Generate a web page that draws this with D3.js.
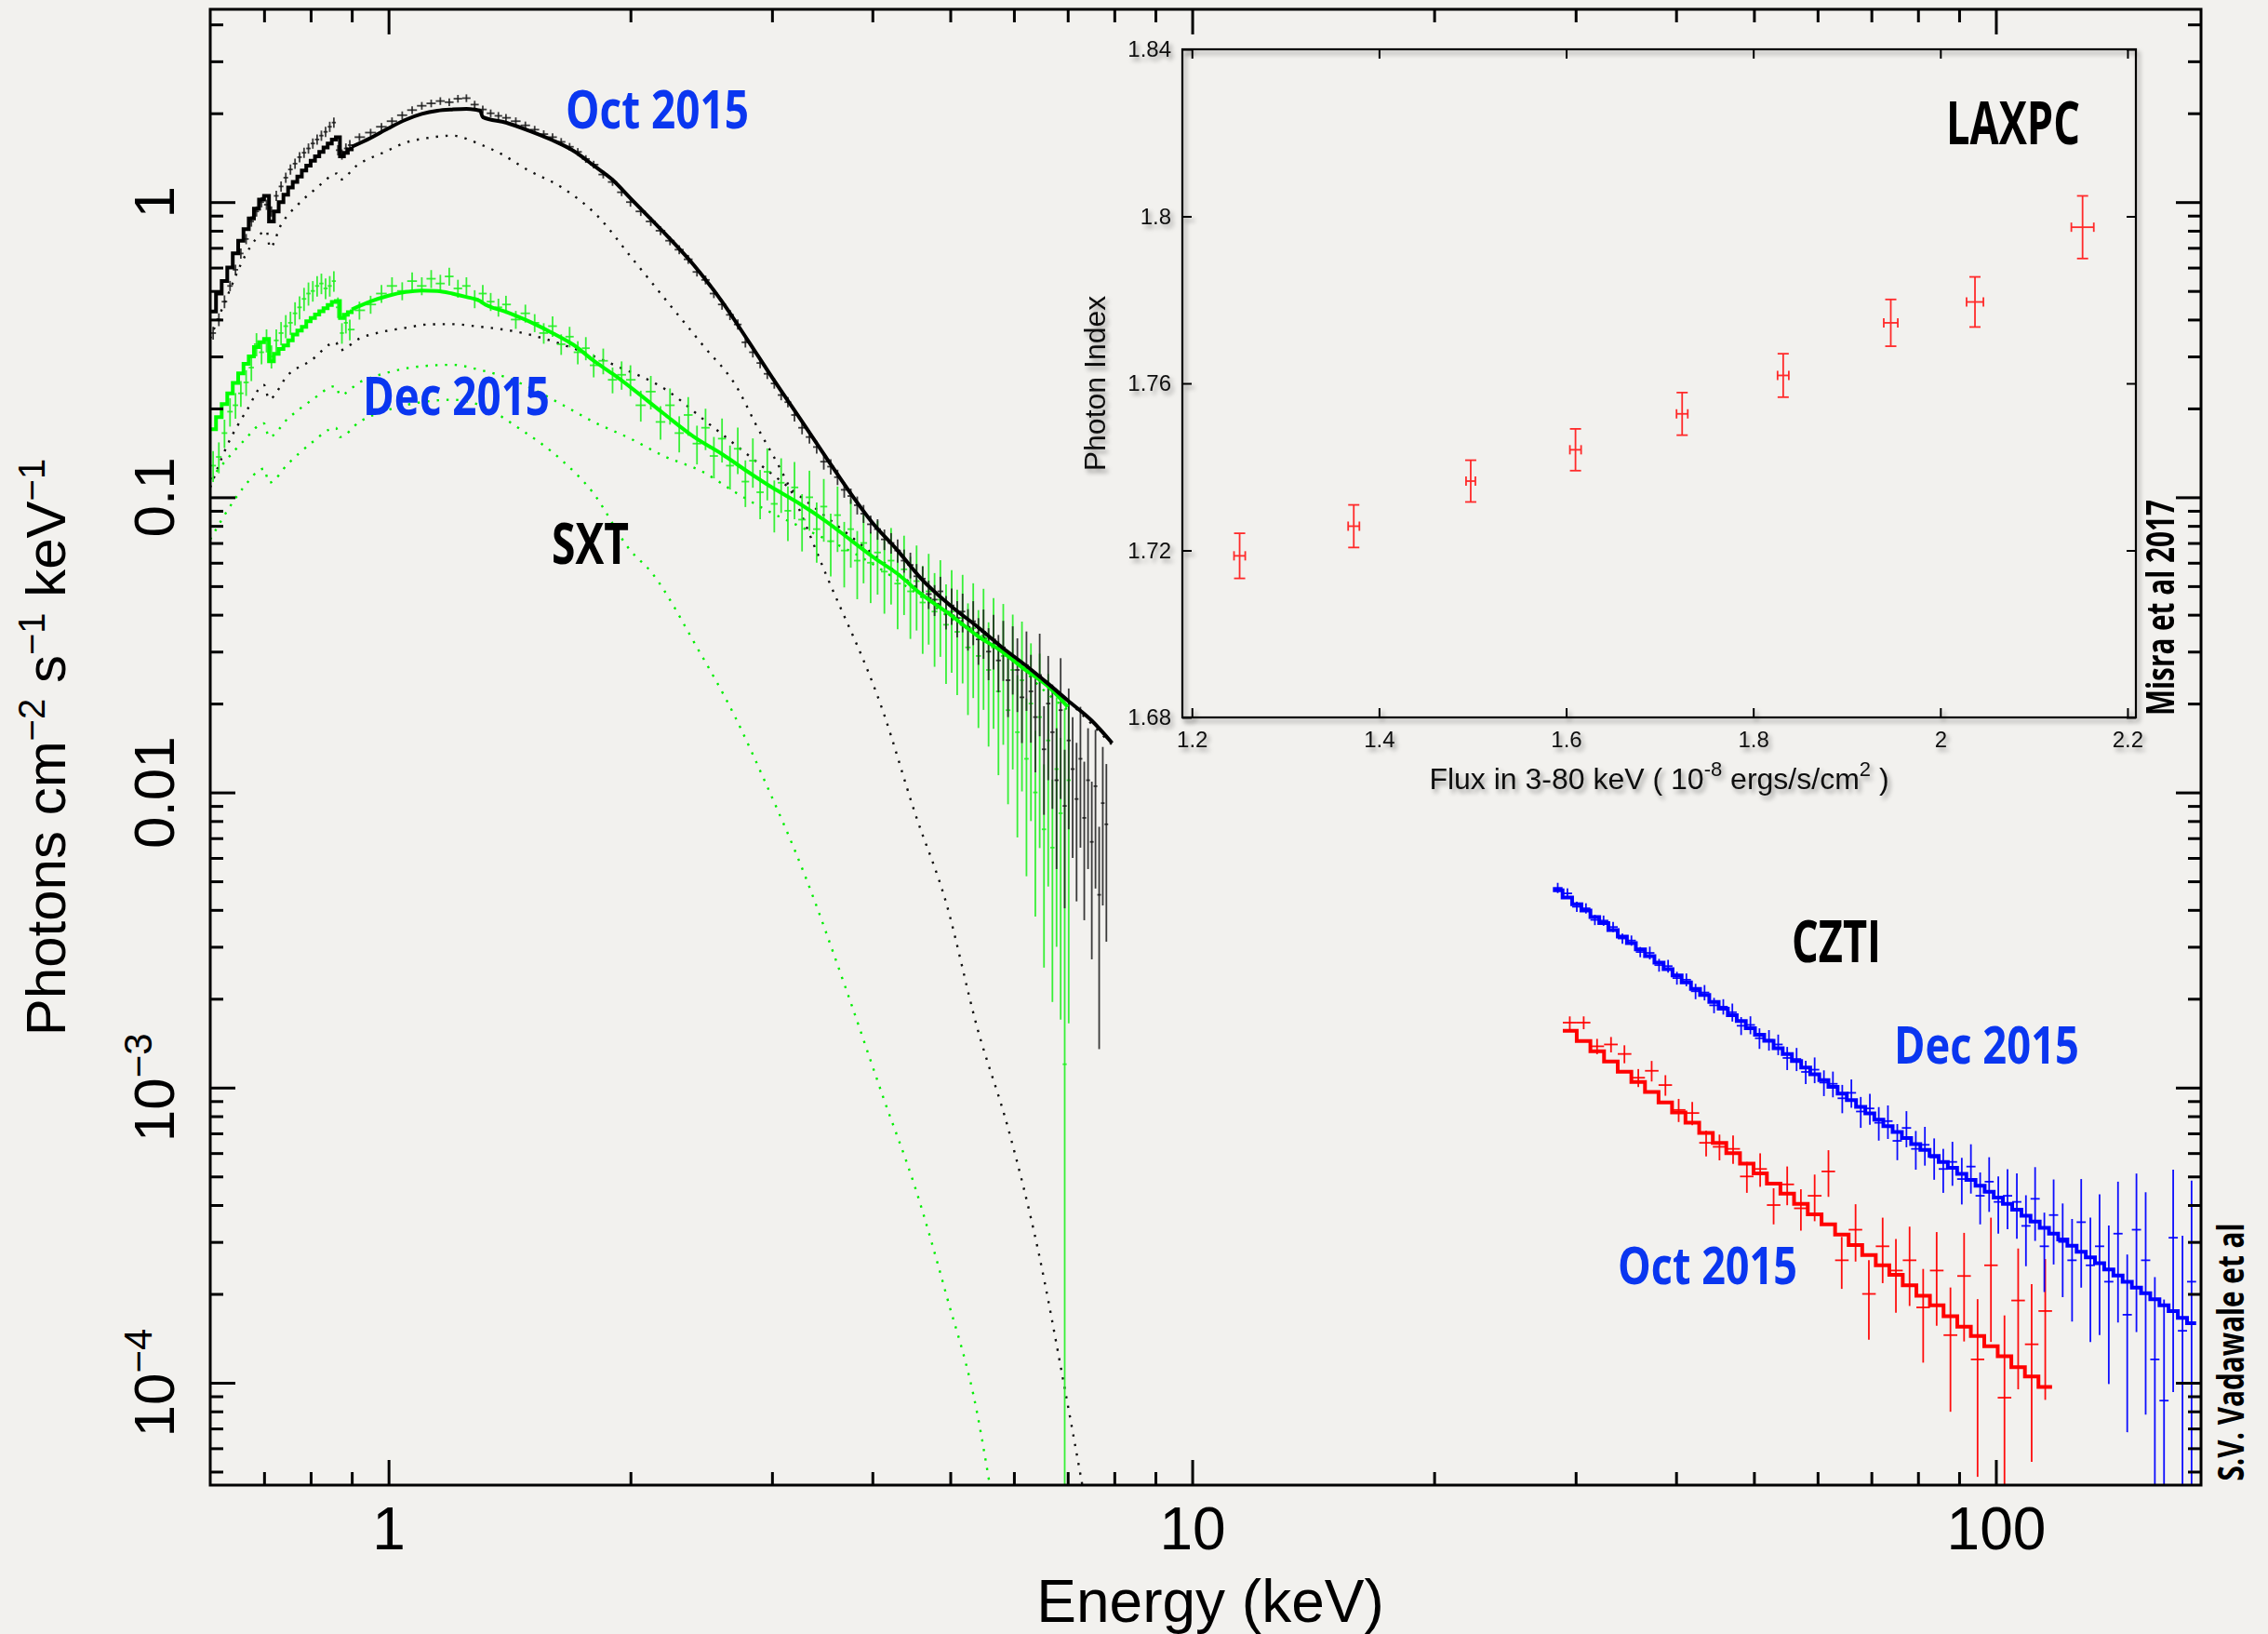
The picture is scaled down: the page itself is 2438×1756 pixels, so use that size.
<!DOCTYPE html>
<html lang="en">
<head>
<meta charset="UTF-8" />
<title>SXT, LAXPC and CZTI spectra</title>
<style>
  body { margin: 0; background: #f2f1ee; }
  svg { display: block; }
</style>
</head>
<body>
<div id="chart"></div>
<script src="https://d3js.org/d3.v7.min.js"></script>
<script>
// ---------------- SXT data (keV, photons cm^-2 s^-1 keV^-1) ----------------
const sxtEnergy = [
  0.605,0.615,0.625,0.635,0.645,0.655,0.665,0.675,0.685,0.695,
  0.705,0.715,0.725,0.735,0.745,0.755,0.765,0.775,0.785,0.795,
  0.805,0.815,0.825,0.835,0.845,0.855,0.865,0.875,0.885,0.895,
  0.92,0.95,0.98,1.01,1.04,1.07,1.10,1.13,1.16,1.19,
  1.22,1.25,1.28,1.31,1.34,1.37,1.40,1.44,1.48,1.52,
  1.56,1.60,1.64,1.68,1.72,1.76,1.80,1.85,1.90,1.95,
  2.00,2.06,2.12,2.18,2.24,2.30,2.36,2.42,2.48,2.54,
  2.60,2.66,2.72,2.78,2.84,2.90,2.96,3.02,3.08,3.14,
  3.20,3.27,3.34,3.41,3.48,3.55,3.62,3.69,3.76,3.83,
  3.90,3.98,4.06,4.14,4.22,4.30,4.38,4.46,4.54,4.62,
  4.70,4.78,4.86,4.94,5.02,5.10,5.18,5.26,5.34,5.42,
  5.50,5.58,5.66,5.74,5.82,5.90,5.98,6.06,6.14,6.22,
  6.30,6.38,6.46,6.54,6.62,6.70,6.78,6.86,6.94,7.02,
  7.10,7.18,7.26,7.34,7.42,7.50,7.58,7.66,7.74,7.82
];
const sxtOct = [
  0.36,0.40,0.46,0.52,0.59,0.67,0.75,0.86,0.93,1.00,
  0.98,0.93,1.05,1.13,1.21,1.29,1.35,1.42,1.47,1.52,
  1.58,1.63,1.68,1.73,1.80,1.86,1.50,1.45,1.52,1.56,
  1.66,1.72,1.80,1.88,1.97,2.05,2.12,2.16,2.20,2.18,
  2.24,2.25,2.14,2.06,2.00,1.96,1.93,1.88,1.82,1.76,
  1.70,1.66,1.60,1.54,1.48,1.40,1.34,1.24,1.17,1.08,
  1.00,0.93,0.86,0.80,0.74,0.69,0.64,0.58,0.545,0.49,
  0.45,0.415,0.385,0.335,0.31,0.285,0.262,0.243,0.222,0.21,
  0.19,0.172,0.160,0.148,0.132,0.127,0.117,0.106,0.101,0.094,
  0.088,0.081,0.078,0.072,0.070,0.066,0.061,0.059,0.054,0.053,
  0.047,0.045,0.048,0.041,0.043,0.039,0.041,0.036,0.038,0.033,
  0.035,0.030,0.033,0.028,0.031,0.024,0.029,0.026,0.021,0.027,
  0.022,0.018,0.025,0.014,0.020,0.016,0.011,0.019,0.009,0.015,
  0.012,0.0095,0.013,0.0082,0.011,0.0068,0.0105,0.0045,0.0092,0.0078
];
// relative 1-sigma errors
const sxtOctErr = [
  .05,.05,.05,.04,.04,.04,.04,.04,.04,.04,
  .04,.04,.04,.04,.04,.04,.04,.04,.04,.04,
  .04,.04,.04,.04,.04,.04,.04,.04,.04,.04,
  .03,.03,.03,.03,.03,.03,.03,.03,.03,.03,
  .03,.03,.03,.03,.03,.03,.03,.03,.03,.03,
  .03,.03,.03,.03,.03,.03,.03,.03,.03,.03,
  .035,.035,.035,.035,.035,.035,.035,.035,.035,.035,
  .04,.04,.04,.04,.04,.04,.04,.04,.04,.04,
  .05,.05,.05,.05,.06,.06,.06,.06,.06,.07,
  .07,.07,.08,.08,.08,.09,.09,.1,.1,.1,
  .11,.12,.12,.13,.14,.14,.15,.16,.17,.18,
  .19,.2,.21,.22,.23,.25,.26,.28,.3,.3,
  .33,.35,.38,.4,.45,.45,.5,.5,.55,.5,
  .5,.55,.5,.55,.5,.6,.55,.7,.55,.6
];
const sxtDec = [
  0.128,0.137,0.165,0.195,0.205,0.225,0.245,0.275,0.33,0.31,
  0.34,0.30,0.34,0.36,0.38,0.39,0.42,0.44,0.47,0.49,
  0.50,0.52,0.53,0.51,0.52,0.54,0.44,0.36,0.39,0.37,
  0.43,0.45,0.49,0.52,0.50,0.54,0.52,0.55,0.53,0.56,
  0.51,0.52,0.47,0.49,0.46,0.44,0.45,0.40,0.42,0.39,
  0.36,0.38,0.33,0.35,0.31,0.32,0.28,0.29,0.25,0.26,
  0.25,0.205,0.228,0.18,0.205,0.165,0.19,0.152,0.172,0.138,
  0.158,0.128,0.146,0.113,0.133,0.104,0.122,0.095,0.112,0.09,
  0.108,0.084,0.1,0.078,0.093,0.071,0.087,0.066,0.078,0.061,
  0.07,0.06,0.065,0.056,0.061,0.051,0.057,0.048,0.052,0.044,
  0.048,0.041,0.045,0.037,0.041,0.035,0.039,0.031,0.036,0.029,
  0.034,0.026,0.031,0.022,0.029,0.019,0.026,0.016,0.024,0.013,
  0.02,0.01,0.018,0.0075,0.015,0.0065,0.012,0.0085,0.0012,0.011
];
const sxtDecErr = [
  .12,.12,.11,.11,.1,.1,.1,.1,.09,.09,
  .09,.09,.09,.09,.09,.09,.09,.09,.09,.09,
  .08,.08,.08,.08,.08,.08,.08,.08,.08,.08,
  .07,.07,.07,.07,.07,.07,.07,.07,.07,.07,
  .07,.07,.07,.07,.07,.07,.07,.07,.07,.07,
  .08,.08,.08,.08,.09,.09,.09,.1,.1,.11,
  .12,.12,.13,.13,.14,.14,.15,.15,.16,.16,
  .17,.17,.18,.18,.19,.19,.2,.2,.21,.21,
  .22,.22,.23,.23,.24,.24,.25,.25,.26,.26,
  .27,.27,.28,.28,.29,.3,.3,.31,.32,.33,
  .34,.35,.36,.37,.38,.39,.4,.41,.42,.43,
  .44,.45,.47,.48,.5,.52,.54,.56,.58,.6,
  .6,.62,.64,.66,.68,.7,.75,.8,15,.85
];

// ---------------- SXT folded models ----------------
const sxtModelEnergy = [
  0.600,0.610,0.620,0.630,0.640,0.650,0.660,0.670,0.680,0.690,
  0.700,0.710,0.720,0.730,0.740,0.750,0.760,0.770,0.780,0.790,
  0.800,0.810,0.820,0.830,0.840,0.850,0.860,0.870,0.880,0.890,
  0.900,0.95,1.00,1.05,1.10,1.15,1.20,1.25,1.30,1.31,
  1.40,1.50,1.60,1.70,1.80,1.90,2.00,2.20,2.40,2.60,
  2.80,3.00,3.25,3.50,3.75,4.00,4.30,4.60,5.00,5.40,
  5.80,6.20,6.60,7.00,7.50,7.95
];
const sxtModelOct = [
  0.426,0.49,0.54,0.60,0.67,0.74,0.81,0.88,0.95,1.02,
  1.05,0.86,0.93,1.00,1.06,1.12,1.17,1.22,1.28,1.33,
  1.38,1.43,1.48,1.53,1.58,1.63,1.66,1.43,1.47,1.51,
  1.54,1.65,1.78,1.90,1.99,2.04,2.06,2.07,2.04,1.94,
  1.86,1.74,1.62,1.49,1.33,1.19,1.03,0.79,0.61,0.46,
  0.34,0.255,0.185,0.137,0.104,0.082,0.066,0.053,0.043,0.0365,
  0.031,0.027,0.0235,0.0205,0.0175,0.0147
];
const sxtModelDec = [
  0.170,0.187,0.207,0.225,0.244,0.263,0.283,0.300,0.323,0.335,
  0.344,0.289,0.306,0.318,0.327,0.340,0.356,0.367,0.378,0.395,
  0.405,0.416,0.427,0.437,0.448,0.459,0.462,0.405,0.415,0.424,
  0.433,0.461,0.482,0.496,0.502,0.500,0.490,0.477,0.462,0.455,
  0.425,0.393,0.360,0.328,0.290,0.262,0.236,0.192,0.160,0.140,
  0.122,0.108,0.095,0.083,0.072,0.063,0.055,0.047,0.040,0.034,
  0.030,0.026,0.023,0.0195,null,null
];

// ---------------- SXT model components (dotted) ----------------
const octThermalE = [0.60,0.63,0.663,0.684,0.705,0.712,0.735,0.774,0.815,0.85,0.862,0.87,0.913,0.99,1.05,1.12,1.2,1.3,1.385,1.486,1.644,1.818,2.011,2.225,2.462,2.72,2.86,3.13,3.5,4.13,4.52,4.94,5.40,5.90,6.44,6.92,7.3];
const octThermalF = [0.345,0.48,0.658,0.75,0.80,0.70,0.838,0.99,1.12,1.23,1.25,1.19,1.33,1.48,1.59,1.65,1.68,1.57,1.45,1.29,1.12,0.90,0.643,0.458,0.327,0.233,0.178,0.113,0.055,0.0186,0.0085,0.00424,0.0016,7.3e-4,2.76e-4,1.0e-4,4.5e-5];
const octPowerE = [0.60,0.63,0.667,0.70,0.71,0.75,0.80,0.86,0.87,0.92,0.98,1.05,1.12,1.2,1.28,1.47,1.68,1.93,2.2,2.5,2.9,3.5,4.3,5.3,6.5,7.95];
const octPowerF = [0.108,0.15,0.198,0.24,0.215,0.26,0.29,0.335,0.315,0.345,0.363,0.375,0.385,0.386,0.38,0.36,0.323,0.277,0.234,0.178,0.129,0.086,0.0553,0.036,0.0245,0.0145];
const decThermalE = [0.60,0.63,0.66,0.70,0.71,0.75,0.80,0.86,0.87,0.92,1.0,1.1,1.2,1.3,1.45,1.64,1.79,2.0,2.12,2.42,2.7,2.94,3.3,3.7,4.13,4.52,4.94,5.4,5.6];
const decThermalF = [0.072,0.09,0.108,0.125,0.112,0.13,0.152,0.172,0.16,0.18,0.198,0.21,0.214,0.205,0.172,0.134,0.105,0.066,0.056,0.031,0.018,0.0109,0.0052,0.0022,9.2e-4,4.6e-4,2.0e-4,7.9e-5,4.5e-5];
const decPowerE = [0.60,0.63,0.66,0.70,0.71,0.75,0.80,0.86,0.87,0.92,1.0,1.1,1.2,1.3,1.4,1.5,1.65,1.8,2.0,2.2,2.46,2.7,2.94,3.3,3.9,4.5,5.0,5.9,6.5,7.0];
const decPowerF = [0.115,0.135,0.155,0.178,0.16,0.185,0.212,0.238,0.222,0.245,0.265,0.278,0.281,0.27,0.255,0.235,0.205,0.18,0.158,0.138,0.122,0.104,0.091,0.078,0.062,0.048,0.039,0.0295,0.0225,0.019];

// ---------------- CZTI (Dec 2015, blue) ----------------
const cztDecEnergy = [
  28.5,29.3,30.1,30.9,31.7,32.5,33.4,34.3,35.2,36.1,
  37.1,38.1,39.1,40.1,41.2,42.3,43.4,44.6,45.8,47.0,
  48.2,49.5,50.8,52.2,53.6,55.0,56.5,58.0,59.5,61.1,
  62.7,64.4,66.1,67.9,69.7,71.5,73.4,75.4,77.4,79.5,
  81.6,83.8,86.0,88.3,90.7,93.1,95.6,98.1,100.7,103.4,
  106.2,109.0,111.9,114.9,118.0,121.1,124.4,127.7,131.1,134.6,
  138.2,141.9,145.7,149.6,153.6,157.7,161.9,166.2,170.7,175.2
];
const cztDecModel = [
  4.66e-3,4.41e-3,4.18e-3,3.98e-3,3.78e-3,3.61e-3,3.42e-3,3.25e-3,3.09e-3,2.94e-3,
  2.79e-3,2.65e-3,2.52e-3,2.40e-3,2.27e-3,2.16e-3,2.06e-3,1.95e-3,1.85e-3,1.76e-3,
  1.68e-3,1.59e-3,1.51e-3,1.44e-3,1.36e-3,1.30e-3,1.23e-3,1.17e-3,1.11e-3,1.06e-3,
  1.005e-3,9.54e-4,9.07e-4,8.61e-4,8.18e-4,7.79e-4,7.40e-4,7.07e-4,6.75e-4,6.44e-4,
  6.15e-4,5.87e-4,5.60e-4,5.35e-4,5.10e-4,4.87e-4,4.65e-4,4.44e-4,4.24e-4,4.04e-4,
  3.86e-4,3.68e-4,3.52e-4,3.35e-4,3.20e-4,3.06e-4,2.91e-4,2.78e-4,2.66e-4,2.54e-4,
  2.42e-4,2.31e-4,2.20e-4,2.10e-4,2.01e-4,1.92e-4,1.83e-4,1.75e-4,1.66e-4,1.59e-4
];
const cztDec = [
  4.75e-3,4.55e-3,4.10e-3,4.05e-3,3.70e-3,3.68e-3,3.50e-3,3.20e-3,3.15e-3,2.88e-3,
  2.86e-3,2.60e-3,2.58e-3,2.35e-3,2.32e-3,2.12e-3,2.10e-3,1.90e-3,1.88e-3,1.80e-3,
  1.62e-3,1.63e-3,1.47e-3,1.45e-3,1.40e-3,1.26e-3,1.25e-3,1.13e-3,1.15e-3,1.04e-3,
  1.03e-3,9.2e-4,9.6e-4,8.3e-4,8.5e-4,7.6e-4,7.7e-4,6.6e-4,7.3e-4,6.2e-4,
  6.4e-4,5.8e-4,5.3e-4,5.6e-4,4.9e-4,5.4e-4,4.3e-4,4.8e-4,4.1e-4,4.3e-4,
  4.1e-4,3.4e-4,4.2e-4,2.9e-4,3.7e-4,3.0e-4,2.6e-4,3.5e-4,2.5e-4,2.9e-4,
  2.2e-4,3.2e-4,1.7e-4,3.3e-4,2.6e-4,1.2e-4,8.7e-5,3.1e-4,1.5e-4,2.2e-4
];
const cztDecErr = [
  .04,.04,.04,.04,.04,.04,.04,.04,.04,.04,
  .05,.05,.05,.05,.05,.06,.06,.06,.06,.07,
  .07,.07,.08,.08,.08,.09,.09,.09,.1,.1,
  .1,.11,.11,.12,.12,.13,.13,.14,.14,.15,
  .15,.16,.17,.17,.18,.19,.2,.21,.22,.23,
  .25,.27,.28,.3,.32,.35,.38,.4,.45,.5,
  .55,.5,.6,.55,.7,.9,1.2,.7,1.1,1.2
];

// ---------------- CZTI (Oct 2015, red) ----------------
const cztOctEnergy = [
  29.5,30.7,31.9,33.2,34.5,35.9,37.3,38.8,40.3,41.9,
  43.6,45.3,47.1,49.0,50.9,52.9,55.0,57.2,59.5,61.9,
  64.3,66.9,69.5,72.3,75.1,78.1,81.2,84.4,87.8,91.3,
  94.9,98.6,102.5,106.6,110.8,115.2
];
const cztOctModel = [
  1.558e-3,1.437e-3,1.328e-3,1.225e-3,1.132e-3,1.044e-3,9.66e-4,8.91e-4,8.24e-4,7.61e-4,
  7.02e-4,6.50e-4,6.00e-4,5.53e-4,5.12e-4,4.73e-4,4.37e-4,4.04e-4,3.72e-4,3.44e-4,
  3.18e-4,2.93e-4,2.71e-4,2.50e-4,2.32e-4,2.14e-4,1.97e-4,1.83e-4,1.68e-4,1.55e-4,
  1.44e-4,1.33e-4,1.23e-4,1.13e-4,1.05e-4,9.67e-5
];
const cztOct = [
  1.66e-3,1.66e-3,1.38e-3,1.40e-3,1.30e-3,1.08e-3,1.14e-3,1.02e-3,8.4e-4,8.2e-4,
  6.5e-4,6.3e-4,6.2e-4,5.0e-4,5.3e-4,4.0e-4,4.7e-4,3.9e-4,4.3e-4,5.2e-4,
  2.6e-4,3.3e-4,2.0e-4,2.9e-4,2.4e-4,2.6e-4,1.8e-4,2.4e-4,1.45e-4,2.3e-4,
  1.2e-4,2.5e-4,8.9e-5,1.9e-4,1.35e-4,1.75e-4
];
const cztOctErr = [
  .05,.05,.06,.06,.07,.07,.08,.08,.09,.09,
  .1,.1,.11,.12,.13,.14,.15,.16,.18,.18,
  .2,.22,.3,.25,.28,.3,.35,.35,.45,.4,
  .6,.45,.9,.5,.6,.5
];

// ---------------- LAXPC inset ----------------
const laxpcFlux = [1.251, 1.373, 1.498, 1.610, 1.724, 1.832, 1.947, 2.037, 2.152];
const laxpcFluxErr = [0.006, 0.006, 0.005, 0.006, 0.006, 0.006, 0.0075, 0.009, 0.012];
const laxpcIndex = [1.7187, 1.7258, 1.7366, 1.7441, 1.7527, 1.7619, 1.7745, 1.7795, 1.7974];
const laxpcIndexErr = [0.0054, 0.0051, 0.005, 0.005, 0.0051, 0.0052, 0.0056, 0.006, 0.0075];

// ---------------- ticks ----------------
const xMajor = [1, 10, 100];
const xMinor = [0.7, 0.8, 0.9, 2, 3, 4, 5, 6, 7, 8, 9, 20, 30, 40, 50, 60, 70, 80, 90];
const yMajor = [1e-4, 1e-3, 0.01, 0.1, 1];
const yMajorLabels = [["10", "\u22124"], ["10", "\u22123"], ["0.01"], ["0.1"], ["1"]];
const insetXTicks = [1.2, 1.4, 1.6, 1.8, 2, 2.2];
const insetYTicks = [1.68, 1.72, 1.76, 1.8, 1.84];

// ================= drawing =================
const W = 2438, H = 1756;
const frame = { left: 226, right: 2366, top: 10, bottom: 1596 };
const axisFont = "'Liberation Sans', Arial, Helvetica, sans-serif";
const labelFont = "'Open Sans', 'DejaVu Sans', sans-serif";
const BLUE_TXT = "#0a36f0";

const svg = d3.select("#chart").append("svg")
  .attr("width", W).attr("height", H);

const defs = svg.append("defs");
defs.append("clipPath").attr("id", "plot-clip")
  .append("rect")
  .attr("x", frame.left).attr("y", frame.top)
  .attr("width", frame.right - frame.left).attr("height", frame.bottom - frame.top);
defs.append("filter").attr("id", "shadow")
  .attr("x", "-20%").attr("y", "-20%").attr("width", "140%").attr("height", "160%")
  .append("feDropShadow")
  .attr("dx", 3).attr("dy", 4).attr("stdDeviation", 2.5)
  .attr("flood-color", "#000").attr("flood-opacity", 0.35);

svg.append("rect").attr("width", W).attr("height", H).attr("fill", "#f2f1ee");

const x = d3.scaleLog().domain([0.6, 180]).range([frame.left, frame.right]);
const y = d3.scaleLog().domain([4.5e-5, 4.5]).range([frame.bottom, frame.top]).clamp(true);

const plot = svg.append("g").attr("clip-path", "url(#plot-clip)");

// bin edges from neighbouring centres (geometric)
function binEdges(E) {
  return E.map((e, i) => {
    const prev = i > 0 ? E[i - 1] : e * e / E[i + 1];
    const next = i < E.length - 1 ? E[i + 1] : e * e / E[i - 1];
    return [Math.sqrt(prev * e), Math.sqrt(e * next)];
  });
}

// dotted model components
function dotted(E, F, color) {
  plot.append("path")
    .datum(E.map((e, i) => [e, F[i]]))
    .attr("fill", "none")
    .attr("stroke", color)
    .attr("stroke-width", 2.4)
    .attr("stroke-dasharray", "2.4 8")
    .attr("d", d3.line().x(d => x(d[0])).y(d => y(d[1])).curve(d3.curveMonotoneX));
}
dotted(octThermalE, octThermalF, "#111");
dotted(octPowerE, octPowerF, "#111");
dotted(decThermalE, decThermalF, "#00ee00");
dotted(decPowerE, decPowerF, "#00ee00");

// data crosses
function crosses(E, F, err, color, width, opacity) {
  const edges = binEdges(E);
  const pts = E.map((e, i) => ({ e, f: F[i], err: err[i], lo: edges[i][0], hi: edges[i][1] }))
    .filter(d => d.f != null);
  const g = plot.append("g").attr("stroke", color).attr("stroke-width", width)
    .attr("stroke-opacity", opacity);
  g.selectAll(".v").data(pts).join("line")
    .attr("x1", d => x(d.e)).attr("x2", d => x(d.e))
    .attr("y1", d => y(Math.max(d.f * (1 - d.err), 1e-7)))
    .attr("y2", d => y(d.f * (1 + d.err)));
  g.selectAll(".h").data(pts).join("line")
    .attr("x1", d => x(d.lo)).attr("x2", d => x(d.hi))
    .attr("y1", d => y(d.f)).attr("y2", d => y(d.f));
}
crosses(sxtEnergy.slice(0, sxtDec.length), sxtDec, sxtDecErr, "#22f022", 1.8, 0.9);
crosses(sxtEnergy, sxtOct, sxtOctErr, "#1a1a1a", 1.8, 0.85);
crosses(cztOctEnergy, cztOct, cztOctErr, "#ff0000", 1.8, 0.95);
crosses(cztDecEnergy, cztDec, cztDecErr, "#0000ff", 1.8, 0.95);

// SXT models: stepped below 0.9 keV, smooth above
function sxtModel(F, color) {
  const pts = sxtModelEnergy.map((e, i) => [e, F[i]]).filter(d => d[1] != null);
  plot.append("path").datum(pts.filter(d => d[0] <= 0.9))
    .attr("fill", "none").attr("stroke", color).attr("stroke-width", 4)
    .attr("d", d3.line().x(d => x(d[0])).y(d => y(d[1])).curve(d3.curveStepAfter));
  plot.append("path").datum(pts.filter(d => d[0] >= 0.9))
    .attr("fill", "none").attr("stroke", color).attr("stroke-width", 4)
    .attr("stroke-linejoin", "round")
    .attr("d", d3.line().x(d => x(d[0])).y(d => y(d[1])).curve(d3.curveMonotoneX));
}
sxtModel(sxtModelDec, "#00ff00");
sxtModel(sxtModelOct, "#000");

// CZTI models as histograms
function stepModel(E, F, color) {
  const edges = binEdges(E);
  const pts = E.flatMap((e, i) => [[edges[i][0], F[i]], [edges[i][1], F[i]]]);
  plot.append("path").datum(pts)
    .attr("fill", "none").attr("stroke", color).attr("stroke-width", 4)
    .attr("d", d3.line().x(d => x(d[0])).y(d => y(d[1])));
}
stepModel(cztOctEnergy, cztOctModel, "#ff0000");
stepModel(cztDecEnergy, cztDecModel, "#0000ff");

// ---------------- main axes ----------------
function styleAxis(g) {
  g.select(".domain").remove();
  g.selectAll("line").attr("stroke", "#000").attr("stroke-width", 3);
}
svg.append("g").attr("transform", `translate(0,${frame.bottom})`)
  .call(d3.axisBottom(x).tickValues(xMajor).tickSizeInner(-27).tickSizeOuter(0)
    .tickPadding(24).tickFormat(d3.format("~g")))
  .call(styleAxis)
  .attr("font-family", axisFont).attr("font-size", 64)
  .call(g => g.selectAll("text").attr("fill", "#000"));
svg.append("g").attr("transform", `translate(0,${frame.bottom})`)
  .call(d3.axisBottom(x).tickValues(xMinor).tickSizeInner(-14).tickSizeOuter(0).tickFormat(""))
  .call(styleAxis);
svg.append("g").attr("transform", `translate(0,${frame.top})`)
  .call(d3.axisTop(x).tickValues(xMajor).tickSizeInner(-27).tickSizeOuter(0).tickFormat(""))
  .call(styleAxis);
svg.append("g").attr("transform", `translate(0,${frame.top})`)
  .call(d3.axisTop(x).tickValues(xMinor).tickSizeInner(-14).tickSizeOuter(0).tickFormat(""))
  .call(styleAxis);

const yMinor = [];
[1e-5, 1e-4, 1e-3, 1e-2, 1e-1, 1].forEach(dec => {
  d3.range(2, 10).forEach(k => {
    const v = dec * k;
    if (v > 4.5e-5 && v < 4.5) yMinor.push(v);
  });
});
[[d3.axisLeft, frame.left], [d3.axisRight, frame.right]].forEach(([ax, pos]) => {
  svg.append("g").attr("transform", `translate(${pos},0)`)
    .call(ax(y).tickValues(yMajor).tickSizeInner(-27).tickSizeOuter(0).tickFormat(""))
    .call(styleAxis);
  svg.append("g").attr("transform", `translate(${pos},0)`)
    .call(ax(y).tickValues(yMinor).tickSizeInner(-14).tickSizeOuter(0).tickFormat(""))
    .call(styleAxis);
});

svg.append("rect")
  .attr("x", frame.left).attr("y", frame.top)
  .attr("width", frame.right - frame.left).attr("height", frame.bottom - frame.top)
  .attr("fill", "none").attr("stroke", "#000").attr("stroke-width", 3);

// rotated y tick labels
yMajor.forEach((v, i) => {
  const t = svg.append("text")
    .attr("transform", `translate(187,${y(v)}) rotate(-90)`)
    .attr("text-anchor", "middle")
    .attr("font-family", axisFont).attr("font-size", 62).attr("fill", "#000");
  const lab = yMajorLabels[i];
  t.append("tspan").text(lab[0]);
  if (lab[1]) t.append("tspan").attr("dy", -24).attr("font-size", 42).text(lab[1]);
});

// axis titles
svg.append("text")
  .attr("x", 1301).attr("y", 1743)
  .attr("text-anchor", "middle")
  .attr("font-family", axisFont).attr("font-size", 64).attr("fill", "#000")
  .text("Energy (keV)");

const yTitle = svg.append("text")
  .attr("transform", "translate(70,803) rotate(-90)")
  .attr("text-anchor", "middle")
  .attr("font-family", axisFont).attr("font-size", 60).attr("fill", "#000");
[["Photons cm", 0], ["\u22122", 1], [" s", 0], ["\u22121", 1], [" keV", 0], ["\u22121", 1]]
  .forEach(([s, sup], i, arr) => {
    const prevSup = i > 0 && arr[i - 1][1];
    yTitle.append("tspan")
      .attr("dy", sup ? -22 : (prevSup ? 22 : 0))
      .attr("font-size", sup ? 40 : 60)
      .text(s);
  });

// ---------------- inset (LAXPC) ----------------
const inset = { left: 1271, right: 2296, top: 53, bottom: 771 };
const ix = d3.scaleLinear().domain([1.1898, 2.209]).range([inset.left, inset.right]);
const iy = d3.scaleLinear().domain([1.68, 1.84]).range([inset.bottom, inset.top]);

const ins = svg.append("g");
function styleInset(g) {
  g.select(".domain").remove();
  g.selectAll("line").attr("stroke", "#000").attr("stroke-width", 2);
}
const insText = ins.append("g").attr("filter", "url(#shadow)");
insText.append("g").attr("transform", `translate(0,${inset.bottom})`)
  .call(d3.axisBottom(ix).tickValues(insetXTicks).tickSizeInner(-10).tickSizeOuter(0)
    .tickPadding(15).tickFormat(d3.format("~g")))
  .call(styleInset)
  .attr("font-family", axisFont).attr("font-size", 24)
  .call(g => g.selectAll("text").attr("fill", "#111"));
insText.append("g").attr("transform", `translate(${inset.left},0)`)
  .call(d3.axisLeft(iy).tickValues(insetYTicks).tickSizeInner(-10).tickSizeOuter(0)
    .tickPadding(12).tickFormat(d3.format("~g")))
  .call(styleInset)
  .attr("font-family", axisFont).attr("font-size", 24)
  .call(g => g.selectAll("text").attr("fill", "#111"));
ins.append("g").attr("transform", `translate(0,${inset.top})`)
  .call(d3.axisTop(ix).tickValues(insetXTicks).tickSizeInner(-10).tickSizeOuter(0).tickFormat(""))
  .call(styleInset);
ins.append("g").attr("transform", `translate(${inset.right},0)`)
  .call(d3.axisRight(iy).tickValues(insetYTicks).tickSizeInner(-10).tickSizeOuter(0).tickFormat(""))
  .call(styleInset);
ins.append("rect")
  .attr("x", inset.left).attr("y", inset.top)
  .attr("width", inset.right - inset.left).attr("height", inset.bottom - inset.top)
  .attr("fill", "none").attr("stroke", "#000").attr("stroke-width", 2.2)
  .attr("filter", "url(#shadow)");

insText.append("text")
  .attr("transform", `translate(1188,412) rotate(-90)`)
  .attr("text-anchor", "middle")
  .attr("font-family", axisFont).attr("font-size", 32).attr("fill", "#111")
  .text("Photon Index");
const fluxTitle = insText.append("text")
  .attr("x", (inset.left + inset.right) / 2).attr("y", 848)
  .attr("text-anchor", "middle")
  .attr("font-family", axisFont).attr("font-size", 32).attr("fill", "#111");
fluxTitle.append("tspan").text("Flux in 3-80 keV ( 10");
fluxTitle.append("tspan").attr("dy", -14).attr("font-size", 22).text("-8");
fluxTitle.append("tspan").attr("dy", 14).text(" ergs/s/cm");
fluxTitle.append("tspan").attr("dy", -14).attr("font-size", 22).text("2");
fluxTitle.append("tspan").attr("dy", 14).text(" )");

// inset points with capped error bars
const lax = laxpcFlux.map((f, i) => ({ f, fe: laxpcFluxErr[i], g: laxpcIndex[i], ge: laxpcIndexErr[i] }));
const lg = ins.append("g").attr("stroke", "#ff2a2a").attr("stroke-width", 1.8);
lg.selectAll(".v").data(lax).join("line")
  .attr("x1", d => ix(d.f)).attr("x2", d => ix(d.f))
  .attr("y1", d => iy(d.g - d.ge)).attr("y2", d => iy(d.g + d.ge));
lg.selectAll(".h").data(lax).join("line")
  .attr("x1", d => ix(d.f - d.fe)).attr("x2", d => ix(d.f + d.fe))
  .attr("y1", d => iy(d.g)).attr("y2", d => iy(d.g));
[-1, 1].forEach(s => {
  lg.selectAll(".cy" + s).data(lax).join("line")
    .attr("x1", d => ix(d.f) - 6).attr("x2", d => ix(d.f) + 6)
    .attr("y1", d => iy(d.g + s * d.ge)).attr("y2", d => iy(d.g + s * d.ge));
  lg.selectAll(".cx" + s).data(lax).join("line")
    .attr("x1", d => ix(d.f + s * d.fe)).attr("x2", d => ix(d.f + s * d.fe))
    .attr("y1", d => iy(d.g) - 5).attr("y2", d => iy(d.g) + 5);
});

// ---------------- annotations ----------------
function note(txt, xPos, yPos, width, size, color) {
  svg.append("text")
    .attr("x", xPos).attr("y", yPos)
    .attr("font-family", labelFont).attr("font-weight", 700)
    .attr("font-size", size).attr("fill", color)
    .attr("textLength", width).attr("lengthAdjust", "spacingAndGlyphs")
    .text(txt);
}
note("Oct 2015", 608, 138, 197, 58, BLUE_TXT);
note("Dec 2015", 390, 446, 201, 57, BLUE_TXT);
note("SXT", 593, 606, 83, 60, "#000");
note("LAXPC", 2092, 155, 144, 64, "#000");
note("CZTI", 1926, 1034, 96, 63, "#000");
note("Dec 2015", 2036, 1143, 199, 56, BLUE_TXT);
note("Oct 2015", 1739, 1380, 193, 56, BLUE_TXT);

function sideNote(txt, xBase, yCenter, len, size) {
  svg.append("text")
    .attr("transform", `translate(${xBase},${yCenter}) rotate(-90)`)
    .attr("text-anchor", "middle")
    .attr("font-family", labelFont).attr("font-weight", 700)
    .attr("font-size", size).attr("fill", "#000")
    .attr("textLength", len).attr("lengthAdjust", "spacingAndGlyphs")
    .text(txt);
}
sideNote("Misra et al 2017", 2337, 653, 232, 42);
sideNote("S.V. Vadawale et al", 2412, 1453, 277, 40);
</script>
</body>
</html>
